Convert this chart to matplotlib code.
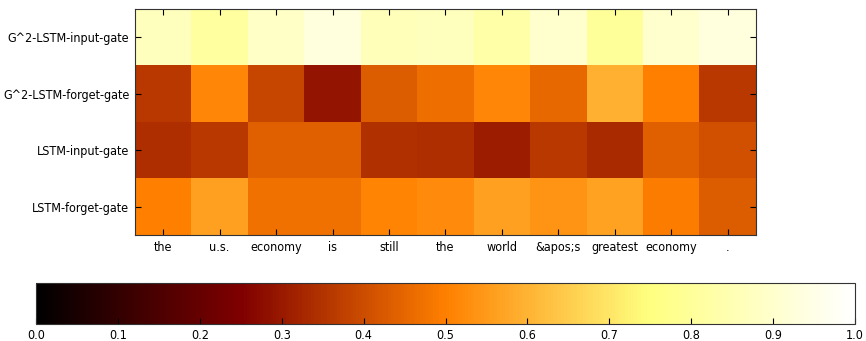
import numpy as np
import matplotlib
matplotlib.use("Agg")
import matplotlib.pyplot as plt

# tokens along x, gate names along y
words = ["the", "u.s.", "economy", "is", "still", "the", "world", "&apos;s",
         "greatest", "economy", "."]
gates = ["G^2-LSTM-input-gate", "G^2-LSTM-forget-gate",
         "LSTM-input-gate", "LSTM-forget-gate"]

g2_input = [0.87, 0.81, 0.89, 0.93, 0.86, 0.87, 0.83, 0.90, 0.80, 0.90, 0.93]
g2_forget = [0.36, 0.515, 0.39, 0.29, 0.43, 0.465, 0.515, 0.455, 0.595, 0.50, 0.36]
lstm_input = [0.34, 0.36, 0.44, 0.44, 0.345, 0.34, 0.305, 0.36, 0.335, 0.44, 0.41]
lstm_forget = [0.50, 0.565, 0.47, 0.47, 0.51, 0.52, 0.565, 0.54, 0.57, 0.495, 0.43]

data = np.array([g2_input, g2_forget, lstm_input, lstm_forget])

plt.rcParams.update({
    "font.family": "DejaVu Sans",
    "font.stretch": "condensed",
    "font.size": 9,
    "xtick.direction": "in",
    "ytick.direction": "in",
    "xtick.top": True,
    "ytick.right": True,
    "xtick.major.size": 4,
    "ytick.major.size": 4,
    "axes.edgecolor": "#333333",
})

fig = plt.figure(figsize=(8.66, 3.41), dpi=100)
ax = fig.add_axes([0.1559, 0.311, 0.717, 0.6626])
im = ax.imshow(data, cmap="afmhot", vmin=0, vmax=1, aspect="auto",
               interpolation="nearest")
ax.set_xticks(range(len(words)))
ax.set_xticklabels(words)
ax.set_yticks(range(len(gates)))
ax.set_yticklabels(gates)
ax.tick_params(axis="x", pad=4)
ax.tick_params(axis="y", pad=4)

cax = fig.add_axes([0.0416, 0.05, 0.9457, 0.12])
cb = fig.colorbar(im, cax=cax, orientation="horizontal")
cb.set_ticks(np.arange(0, 1.01, 0.1))
cax.tick_params(direction="in", length=4, top=False)

fig.savefig("out.png", dpi=100)
